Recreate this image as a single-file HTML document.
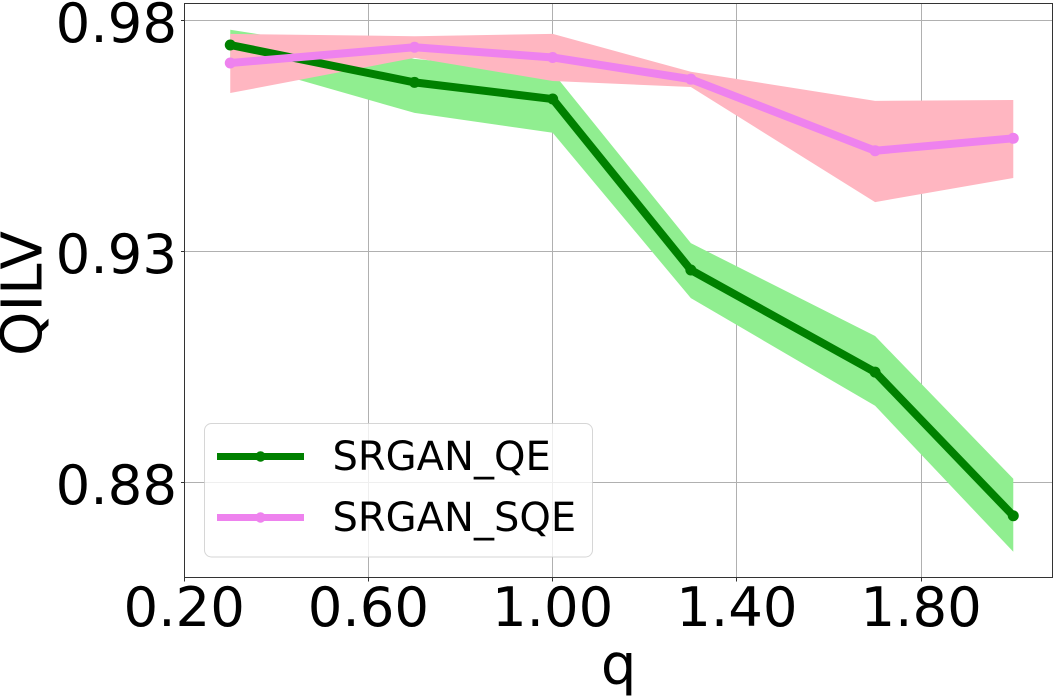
<!DOCTYPE html>
<html lang="en">
<head>
<meta charset="utf-8">
<title>QILV vs q</title>
<style>
html,body{margin:0;padding:0;background:#fff;width:1053px;height:696px;overflow:hidden}
svg{display:block}
text{font-family:"DejaVu Sans","Liberation Sans",sans-serif;fill:#000}
</style>
</head>
<body>
<svg id="chart" width="1053" height="696" viewBox="0 0 1053 696" xmlns="http://www.w3.org/2000/svg">
  <rect x="0" y="0" width="1053" height="696" fill="#fff"/>
  <g id="grid"></g>
  <g id="bands"></g>
  <g id="lines"></g>
  <g id="axes"></g>
  <text x="618.7" y="684" font-size="56" text-anchor="middle">q</text>
  <text transform="translate(41.5,293.5) rotate(-90)" font-size="56.5" text-anchor="middle">QILV</text>
  <g>
    <rect x="204.5" y="423.5" width="388" height="133.5" rx="7" ry="7" fill="#fff" fill-opacity="0.8" stroke="#ccc" stroke-opacity="0.8" stroke-width="1"/>
    <g>
      <line x1="217" y1="456.5" x2="304" y2="456.5" stroke="#008000" stroke-width="7"/>
      <circle cx="260.5" cy="456.5" r="5.2" fill="#008000"/>
      <text x="332.5" y="470" font-size="40">SRGAN_QE</text>
    </g>
    <g>
      <line x1="217" y1="517.5" x2="304" y2="517.5" stroke="#ee82ee" stroke-width="7"/>
      <circle cx="260.5" cy="517.5" r="5.2" fill="#ee82ee"/>
      <text x="332.5" y="531" font-size="40">SRGAN_SQE</text>
    </g>
  </g>
</svg>
<script>
var qValues = [0.3, 0.7, 1.0, 1.3, 1.7, 2.0];
var qeMean  = [0.9747, 0.9666, 0.9630, 0.9260, 0.9039, 0.8728];
var qeUpper = [0.9780, 0.9717, 0.9688, 0.9318, 0.9117, 0.8808];
var qeLower = [0.9714, 0.9600, 0.9557, 0.9199, 0.8966, 0.8650];
var sqeMean  = [0.9708, 0.9742, 0.9720, 0.9673, 0.9518, 0.9545];
var sqeUpper = [0.9771, 0.9766, 0.9771, 0.9689, 0.9626, 0.9628];
var sqeLower = [0.9643, 0.9719, 0.9669, 0.9656, 0.9407, 0.9459];
var xTicks = [0.2, 0.6, 1.0, 1.4, 1.8];
var yTicks = [0.98, 0.93, 0.88];

var NS = 'http://www.w3.org/2000/svg';
function px(v){ return 184.2 + (v - 0.2) * 460.6; }
function py(v){ return 20.5 + (0.98 - v) * 4620; }
function make(tag, parent, attrs){
  var el = document.createElementNS(NS, tag);
  for (var k in attrs) el.setAttribute(k, attrs[k]);
  parent.appendChild(el);
  return el;
}
var gridG = document.getElementById('grid');
var bandsG = document.getElementById('bands');
var linesG = document.getElementById('lines');
var axesG = document.getElementById('axes');

xTicks.forEach(function(t){
  var x = Math.floor(px(t)) + 0.5;
  var g = make('line', gridG, {x1:x, y1:3.5, x2:x, y2:577.5, stroke:'#b0b0b0', 'stroke-width':1});
  
  
  var m = make('line', axesG, {x1:x, y1:577.5, x2:x, y2:581.5, stroke:'#333', 'stroke-width':1});
  
  
  var l = make('text', axesG, {x:px(t), y:626, 'font-size':54.5, 'text-anchor':'middle'});
  
  
  l.textContent = t.toFixed(2);
});
yTicks.forEach(function(t){
  var y = Math.floor(py(t)) + 0.5;
  var g = make('line', gridG, {x1:184.5, y1:y, x2:1052.5, y2:y, stroke:'#b0b0b0', 'stroke-width':1});
  
  
  var m = make('line', axesG, {x1:181, y1:y, x2:184.5, y2:y, stroke:'#333', 'stroke-width':1});
  
  
  var l = make('text', axesG, {x:177, y:py(t) + 21.5, 'font-size':54.5, 'text-anchor':'end'});
  
  
  l.textContent = t.toFixed(2);
});

function bandPoints(upper, lower){
  var pts = [];
  qValues.forEach(function(q, i){ pts.push(px(q) + ',' + py(upper[i])); });
  for (var i = qValues.length - 1; i >= 0; i--) pts.push(px(qValues[i]) + ',' + py(lower[i]));
  return pts.join(' ');
}
function linePoints(vals){
  return qValues.map(function(q, i){ return px(q) + ',' + py(vals[i]); }).join(' ');
}

var qeBand = make('polygon', bandsG, {points:bandPoints(qeUpper, qeLower), fill:'#90ee90'});


var sqeBand = make('polygon', bandsG, {points:bandPoints(sqeUpper, sqeLower), fill:'#ffb6c1'});



var qeLine = make('polyline', linesG, {points:linePoints(qeMean), fill:'none', stroke:'#008000', 'stroke-width':8, 'stroke-linejoin':'round'});


qValues.forEach(function(q, i){
  var c = make('circle', linesG, {cx:px(q), cy:py(qeMean[i]), r:5.5, fill:'#008000'});
  
  
});
var sqeLine = make('polyline', linesG, {points:linePoints(sqeMean), fill:'none', stroke:'#ee82ee', 'stroke-width':8, 'stroke-linejoin':'round'});


qValues.forEach(function(q, i){
  var c = make('circle', linesG, {cx:px(q), cy:py(sqeMean[i]), r:5.5, fill:'#ee82ee'});
  
  
});

var frame = make('path', axesG, {d:'M184.5 3.5H1052.5V577.5H184.5Z', fill:'none', stroke:'#333', 'stroke-width':1});


</script>
</body>
</html>
